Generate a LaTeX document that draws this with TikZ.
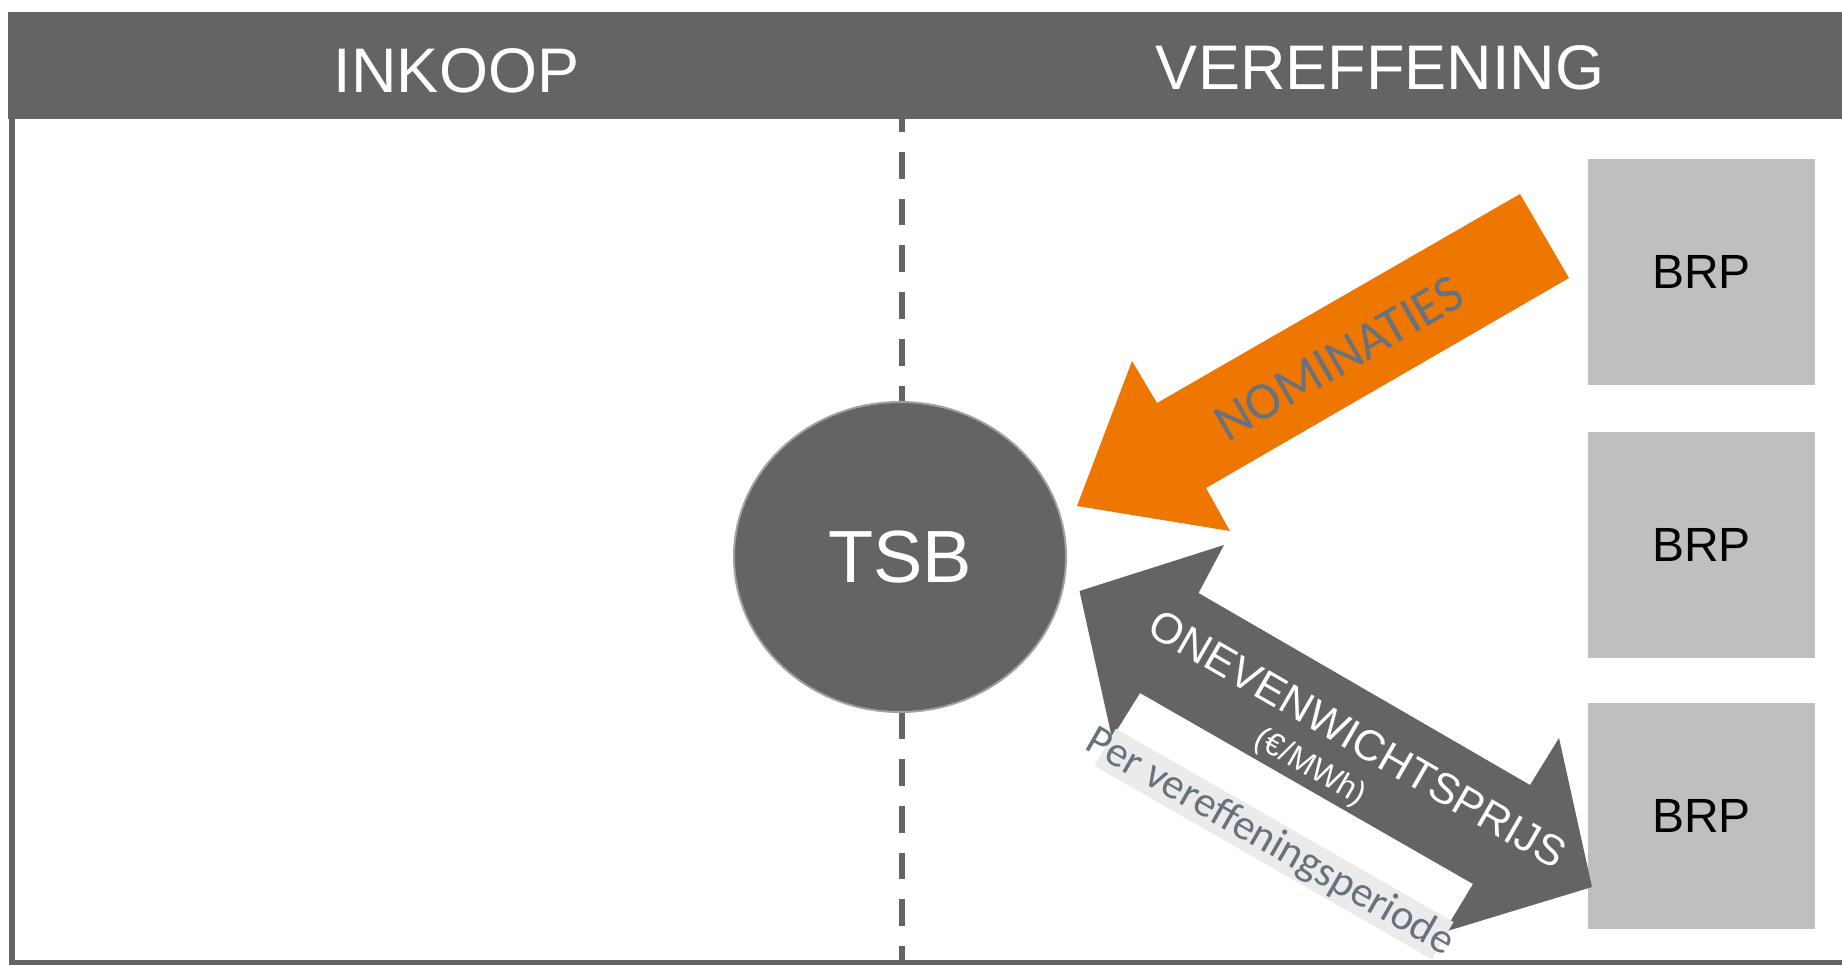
\documentclass[tikz,border=0pt]{standalone}
\usepackage{fontspec}
\setmainfont{Liberation Sans}
\newfontfamily\calibfont{Carlito}
\usetikzlibrary{shapes.geometric}
\definecolor{dkgrey}{RGB}{100,100,100}
\definecolor{circborder}{RGB}{160,160,160}
\definecolor{brpgrey}{RGB}{191,191,191}
\definecolor{nomorange}{RGB}{237,119,0}
\definecolor{slatetext}{RGB}{103,114,126}
\definecolor{bandgrey}{RGB}{235,235,235}
\tikzset{
  headtext/.style={text=white, inner sep=0pt, font=\fontsize{63}{63}\selectfont},
  brpbox/.style={fill=brpgrey, minimum width=227pt, minimum height=226pt, inner sep=0pt,
    font=\fontsize{48}{48}\selectfont, text=black},
  tsbnode/.style={ellipse, fill=dkgrey, draw=circborder, line width=2pt,
    minimum width=332pt, minimum height=310pt, inner sep=0pt, text=white,
    font=\fontsize{74}{74}\selectfont},
  divider/.style={dkgrey, line width=6pt, dash pattern=on 26.7pt off 20pt, dash phase=13.7pt},
}
\begin{document}
\begin{tikzpicture}[x=1pt,y=-1pt]
\useasboundingbox (0,0) rectangle (1842,964);
% frame
\draw[dkgrey, line width=6pt] (11.5,15) rectangle (1860,963);
% dashed divider
\coordinate (divtop) at (901.5,119);
\coordinate (divbot) at (901.5,961);
\draw[divider] (divtop) -- (divbot);
% header band
\fill[dkgrey] (8,12) rectangle (1850,119);
\node[headtext] (inkoop) at (456.5,71) {INKOOP};
\node[headtext] (vereff) at (1380,67.5) {VEREFFENING};
% TSB
\node[tsbnode] (tsb) at (900,557) {TSB};
% BRP boxes
\node[brpbox] (brp1) at (1701.5,272) {BRP};
\node[brpbox] (brp2) at (1701.5,544.5) {BRP};
\node[brpbox] (brp3) at (1701.5,815.5) {BRP};
% orange arrow NOMINATIES
\fill[nomorange] (1520,194) -- (1569,278) -- (1206,488) -- (1230,531) -- (1077,506)
  -- (1132,361) -- (1157,403) -- cycle;
\node[rotate=30, text=slatetext, inner sep=0pt, font=\calibfont\fontsize{53}{53}\selectfont]
  (nom) at (1339,358) {NOMINATIES};
% grey double arrow
\fill[dkgrey] (1079.5,591) -- (1224,545) -- (1198.5,593) -- (1530,785) -- (1559,738)
  -- (1592,887) -- (1444,932) -- (1473,884) -- (1140,693) -- (1112,738) -- cycle;
\node[rotate=-30, text=white, inner sep=0pt, font=\fontsize{43}{43}\selectfont]
  (oneven) at (1358,739) {ONEVENWICHTSPRIJS};
\node[rotate=-30, text=white, inner sep=0pt, font=\fontsize{32}{32}\selectfont]
  (eur) at (1310,768) {(€/MWh)};
% label band
\node[rotate=-29.8, fill=bandgrey, minimum width=389pt, minimum height=43pt, inner sep=0pt]
  (band) at (1274,844) {};
\node[rotate=-29.8, text=slatetext, inner sep=0pt, font=\calibfont\fontsize{43}{43}\selectfont]
  (per) at ([shift={(-4,-1.5)}]band.center) {Per vereffeningsperiode};
\end{tikzpicture}
\end{document}
